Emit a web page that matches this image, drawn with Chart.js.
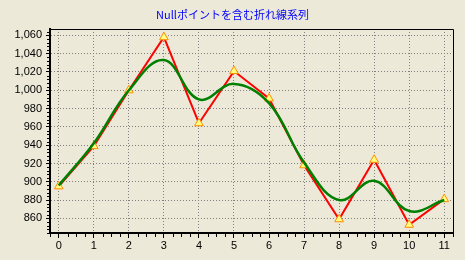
<!DOCTYPE html>
<html><head><meta charset="utf-8">
<script src="https://cdn.jsdelivr.net/npm/chart.js@4/dist/chart.umd.min.js"></script>
<style>html,body{margin:0;padding:0;background:#ECE9D8;overflow:hidden;}</style>
</head><body><canvas id="c" width="465" height="260"></canvas>
<script>
const titleText = 'Nullポイントを含む折れ線系列';
const categories = [0, 1, 2, 3, 4, 5, 6, 7, 8, 9, 10, 11];
const lineValues = [895, 939, 1000, 1058, 964, 1021, 991, 918, 859, 924, 853, 881];
const smoothValues = [896, 942, 1000, 1033, 990, 1007, 986, 921, 880, 901, 868, 880];
const yTickValues = [860, 880, 900, 920, 940, 960, 980, 1000, 1020, 1040, 1060];
const xTickValues = [0, 1, 2, 3, 4, 5, 6, 7, 8, 9, 10, 11];

const tickFont = { family: '"Liberation Sans", Arial, sans-serif', size: 11 };

const frame = {
  id: 'frame',
  afterDraw(chart) {
    const { ctx, chartArea: a, scales } = chart;
    ctx.save();
    ctx.strokeStyle = '#000';
    ctx.lineWidth = 1;
    ctx.beginPath();
    ctx.moveTo(a.left, Math.round(a.top) + 0.5);
    ctx.lineTo(Math.round(a.right) + 0.5, Math.round(a.top) + 0.5);
    ctx.lineTo(Math.round(a.right) + 0.5, a.bottom);
    ctx.stroke();
    ctx.beginPath();
    const xs = scales.x;
    for (let v = xs.min; v <= xs.max + 1e-6; v += 0.25) {
      if (Math.abs(v - Math.round(v)) < 1e-6) continue;
      const px = Math.round(xs.getPixelForValue(v)) + 0.5;
      ctx.moveTo(px, a.bottom + 1);
      ctx.lineTo(px, a.bottom + 4);
    }
    const ys = scales.y;
    for (let v = Math.ceil(ys.min / 4) * 4; v <= ys.max; v += 4) {
      if (v % 20 === 0) continue;
      const py = Math.round(ys.getPixelForValue(v)) + 0.5;
      ctx.moveTo(a.left - 1, py);
      ctx.lineTo(a.left - 3, py);
    }
    ctx.stroke();
    ctx.restore();
  }
};

new Chart(document.getElementById('c'), {
  type: 'line',
  data: {
    labels: categories,
    datasets: [
      {
        label: 'smooth',
        data: categories.map((c, i) => ({ x: c, y: smoothValues[i] })),
        borderColor: '#008000',
        borderWidth: 2.5,
        tension: 0.4,
        pointRadius: 0,
        fill: false
      },
      {
        label: 'line',
        data: categories.map((c, i) => ({ x: c, y: lineValues[i] })),
        borderColor: '#FF0000',
        borderWidth: 2,
        tension: 0,
        pointStyle: 'triangle',
        pointRadius: 5,
        pointBackgroundColor: '#FFFF80',
        pointBorderColor: '#FF8C00',
        pointBorderWidth: 1,
        fill: false
      }
    ]
  },
  options: {
    responsive: false,
    animation: false,
    events: [],
    layout: { padding: { left: 0, right: 0, top: 0, bottom: 0 } },
    plugins: {
      legend: { display: false },
      tooltip: { enabled: false },
      title: {
        display: true,
        text: titleText,
        color: '#0000FF',
        font: { family: '"Noto Sans CJK JP", sans-serif', size: 11, weight: 'normal', lineHeight: 1.2 },
        padding: { top: 8.5, bottom: 7.3 }
      }
    },
    scales: {
      x: {
        type: 'linear',
        min: -0.25,
        max: 11.25,
        afterBuildTicks(s) { s.ticks = xTickValues.map(v => ({ value: v })); },
        afterFit(s) { s.height = 27; },
        ticks: { color: '#000', font: tickFont, padding: 1, maxRotation: 0, autoSkip: false },
        grid: { color: '#808080', lineWidth: 1, drawTicks: true, tickLength: 5, tickColor: '#000', tickWidth: 1, tickBorderDash: [] },
        border: { display: true, color: '#000', width: 2, dash: [1, 2] }
      },
      y: {
        type: 'linear',
        min: 844,
        max: 1067,
        afterBuildTicks(s) { s.ticks = yTickValues.map(v => ({ value: v })); },
        afterFit(s) { s.width = 50; },
        ticks: { color: '#000', font: tickFont, padding: 4, callback: v => v.toLocaleString('en-US') },
        grid: { color: '#808080', lineWidth: 1, drawTicks: true, tickLength: 4, tickColor: '#000', tickWidth: 1, tickBorderDash: [] },
        border: { display: true, color: '#000', width: 2, dash: [1, 2] }
      },
      yr: {
        type: 'linear',
        position: 'right',
        min: 844,
        max: 1067,
        afterFit(s) { s.width = 12; },
        ticks: { display: false },
        grid: { display: false, drawOnChartArea: false, drawTicks: false },
        border: { display: false }
      }
    }
  },
  plugins: [frame]
});
</script>
</body></html>
